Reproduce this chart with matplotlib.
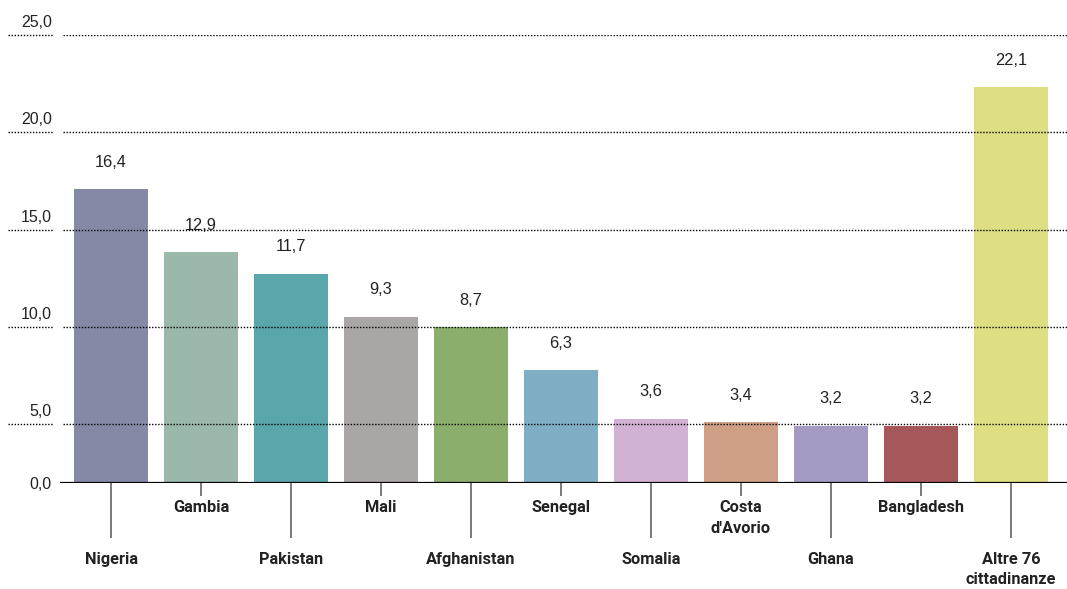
import matplotlib
matplotlib.use("Agg")
import matplotlib.pyplot as plt
from matplotlib import font_manager

# data
countries = ["Nigeria", "Gambia", "Pakistan", "Mali", "Afghanistan", "Senegal",
             "Somalia", "Costa\nd'Avorio", "Ghana", "Bangladesh",
             "Altre 76\ncittadinanze"]
shares = [16.4, 12.9, 11.7, 9.3, 8.7, 6.3, 3.6, 3.4, 3.2, 3.2, 22.1]
colors = ["#8589a6", "#9bb8ab", "#59a6ab", "#aaa6a5", "#8bae6d", "#80aec5",
          "#d2b2d4", "#cf9e87", "#a49ac3", "#a65759", "#dedf83"]
grid_values = [5, 10, 15, 20, 25]
grid_labels = ["5,0", "10,0", "15,0", "20,0", "25,0"]

names = {f.name for f in font_manager.fontManager.ttflist}
narrow = "Liberation Sans Narrow" if "Liberation Sans Narrow" in names else "Roboto"
cat_size = 13 if narrow == "Liberation Sans Narrow" else 11.8
plt.rcParams["font.family"] = ["Liberation Sans", "DejaVu Sans"]
text_col = "#222222"

fig = plt.figure(figsize=(10.67, 5.89), dpi=100)
W, H = 1067, 589
ax = fig.add_axes([60 / W, (H - 483) / H, 1007 / W, 448 / H])

x = list(range(len(countries)))
ax.bar(x, shares, width=0.822, color=colors, zorder=2)
ax.set_xlim(-0.567, 10.622)
ax.set_ylim(0, 25.03)

for i, v in enumerate(shares):
    ax.annotate(f"{v:.1f}".replace(".", ","), xy=(i, v), xytext=(0, 27),
                textcoords="offset pixels", ha="center", va="center",
                fontsize=11.8, color=text_col)

ax.axhline(0, color="black", lw=1.6, zorder=4)
for s in ax.spines.values():
    s.set_visible(False)

# y: only the 0,0 label on the bar scale
ax.set_yticks([0])
ax.set_yticklabels(["0,0"], fontsize=11.5, color=text_col)
ax.tick_params(axis="y", length=0, pad=6)

# category labels with alternating long/short ticks
ax.set_xticks(x[0::2])
ax.set_xticklabels(countries[0::2], family=narrow, fontweight="bold",
                   fontsize=cat_size, color=text_col, linespacing=1.45)
ax.set_xticks(x[1::2], minor=True)
ax.set_xticklabels(countries[1::2], minor=True, family=narrow,
                   fontweight="bold", fontsize=cat_size, color=text_col,
                   linespacing=1.45)
ax.tick_params(axis="x", which="major", length=39.6, width=1.1,
               color="#555555", pad=10)
ax.tick_params(axis="x", which="minor", length=9.4, width=1.1,
               color="#555555", pad=3)

# dotted grid on its own scale
ax2 = ax.twinx()
ax2.set_ylim(1.97, 25.0)
ax2.set_yticks([])
for s in ax2.spines.values():
    s.set_visible(False)
tr = ax2.get_yaxis_transform()
dots = (0, (1, 1.2))
ax2.hlines(grid_values, 0.003, 1.0, transform=tr, colors="black",
           linestyles=dots, lw=1.0, zorder=3)
ax2.hlines(grid_values, -0.0516, -0.0069, transform=tr, colors="black",
           linestyles=dots, lw=1.0, clip_on=False)
for gv, gl in zip(grid_values, grid_labels):
    ax2.annotate(gl, xy=(-0.008, gv), xycoords=tr, xytext=(0, 8),
                 textcoords="offset pixels", ha="right", va="baseline",
                 fontsize=11.5, color=text_col, annotation_clip=False)

fig.savefig("out.png", dpi=100)
